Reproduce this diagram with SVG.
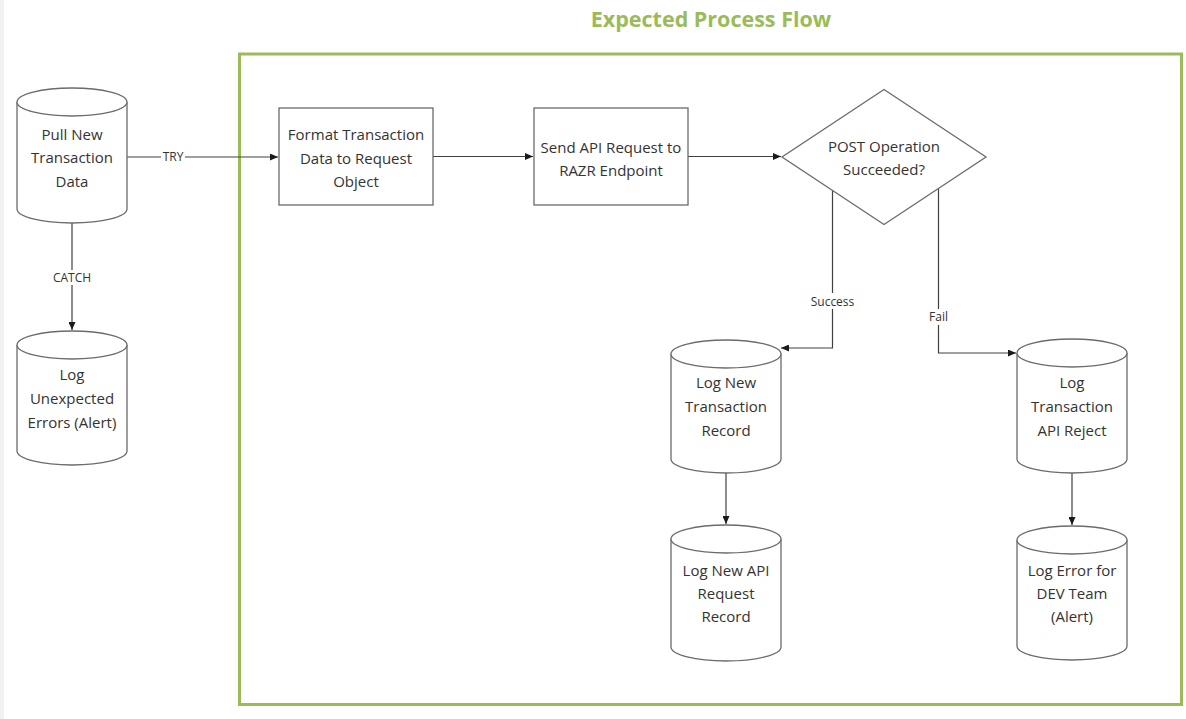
<svg xmlns="http://www.w3.org/2000/svg" width="1186" height="719" viewBox="0 0 1186 719">
  <style>
    .node { fill: #ffffff; stroke: #6b6b6b; stroke-width: 1.3; }
    .txt { font-family: "Open Sans", "Noto Sans", sans-serif; font-size: 15px; fill: #333333; text-anchor: middle; }
    .lbl { font-family: "Open Sans", "Noto Sans", sans-serif; font-size: 12px; fill: #333333; text-anchor: middle; }
    .edge { fill: none; stroke: #404040; stroke-width: 1.2; marker-end: url(#arrow); }
    .lblbg { fill: #ffffff; }
  </style>
  <defs>
    <marker id="arrow" markerUnits="userSpaceOnUse" markerWidth="9" markerHeight="7" refX="8" refY="3.5" orient="auto">
      <path d="M0,0 L8,3.5 L0,7 z" fill="#1a1a1a"/>
    </marker>
  </defs>

  <rect x="0" y="0" width="1186" height="719" fill="#ffffff"/>
  <rect x="0" y="0" width="4" height="719" fill="#f1f1f1"/>

  <!-- process boundary -->
  <g id="process-frame">
    <rect x="239.5" y="54" width="942" height="650.5" fill="none" stroke="#9bbb59" stroke-width="3"/>
    <text x="711" y="26.5" font-family="'Open Sans', 'Noto Sans', sans-serif" font-size="21.5" font-weight="bold" fill="#9bbb59" text-anchor="middle">Expected Process Flow</text>
  </g>

  <!-- connectors -->
  <g id="connectors">
    <path class="edge" d="M127 157 H278"/>
    <path class="edge" d="M72 223 V330"/>
    <path class="edge" d="M433 156.5 H533"/>
    <path class="edge" d="M688 156.5 H781"/>
    <path class="edge" d="M832.5 191 V348 H781"/>
    <path class="edge" d="M938.5 189 V353 H1016"/>
    <path class="edge" d="M726 473 V524"/>
    <path class="edge" d="M1072 473 V525"/>

    <rect class="lblbg" x="161" y="150" width="24" height="14"/>
    <text class="lbl" x="173" y="161.3">TRY</text>
    <rect class="lblbg" x="50" y="270" width="44" height="15"/>
    <text class="lbl" x="72" y="281.5">CATCH</text>
    <rect class="lblbg" x="807" y="293" width="51" height="16"/>
    <text class="lbl" x="832.5" y="305.5">Success</text>
    <rect class="lblbg" x="927" y="309" width="23" height="16"/>
    <text class="lbl" x="938.5" y="321">Fail</text>
  </g>

  <g id="pull-transaction-data">
    <path class="node" d="M17 102 V209 A55 14 0 0 0 127 209 V102"/>
    <ellipse class="node" cx="72" cy="102" rx="55" ry="14"/>
    <text class="txt" x="72" y="139.5">Pull New</text>
    <text class="txt" x="72" y="163">Transaction</text>
    <text class="txt" x="72" y="186.5">Data</text>
  </g>

  <g id="log-unexpected-errors">
    <path class="node" d="M17 345 V451 A55 14 0 0 0 127 451 V345"/>
    <ellipse class="node" cx="72" cy="345" rx="55" ry="14"/>
    <text class="txt" x="72" y="379.5">Log</text>
    <text class="txt" x="72" y="403.5">Unexpected</text>
    <text class="txt" x="72" y="428">Errors (Alert)</text>
  </g>

  <g id="format-request">
    <rect class="node" x="279" y="108" width="154" height="97"/>
    <text class="txt" x="356" y="139.5">Format Transaction</text>
    <text class="txt" x="356" y="163.5">Data to Request</text>
    <text class="txt" x="356" y="187">Object</text>
  </g>

  <g id="send-api-request">
    <rect class="node" x="534" y="108" width="154" height="97"/>
    <text class="txt" x="611" y="152.5">Send API Request to</text>
    <text class="txt" x="611" y="175.5">RAZR Endpoint</text>
  </g>

  <g id="post-succeeded">
    <path class="node" d="M884 89.5 L986 157 L884 224.5 L782 157 Z"/>
    <text class="txt" x="884" y="152">POST Operation</text>
    <text class="txt" x="884" y="175">Succeeded?</text>
  </g>

  <g id="log-transaction-record">
    <path class="node" d="M671 354 V459 A55 14 0 0 0 781 459 V354"/>
    <ellipse class="node" cx="726" cy="354" rx="55" ry="14"/>
    <text class="txt" x="726" y="387.5">Log New</text>
    <text class="txt" x="726" y="411.5">Transaction</text>
    <text class="txt" x="726" y="435.5">Record</text>
  </g>

  <g id="log-api-request-record">
    <path class="node" d="M671 539 V647 A55 14 0 0 0 781 647 V539"/>
    <ellipse class="node" cx="726" cy="539" rx="55" ry="14"/>
    <text class="txt" x="726" y="576">Log New API</text>
    <text class="txt" x="726" y="599">Request</text>
    <text class="txt" x="726" y="622">Record</text>
  </g>

  <g id="log-api-reject">
    <path class="node" d="M1017 353 V459 A55 14 0 0 0 1127 459 V353"/>
    <ellipse class="node" cx="1072" cy="353" rx="55" ry="14"/>
    <text class="txt" x="1072" y="388">Log</text>
    <text class="txt" x="1072" y="412">Transaction</text>
    <text class="txt" x="1072" y="436">API Reject</text>
  </g>

  <g id="log-dev-error">
    <path class="node" d="M1017 540 V646 A55 14 0 0 0 1127 646 V540"/>
    <ellipse class="node" cx="1072" cy="540" rx="55" ry="14"/>
    <text class="txt" x="1072" y="576">Log Error for</text>
    <text class="txt" x="1072" y="599">DEV Team</text>
    <text class="txt" x="1072" y="622">(Alert)</text>
  </g>
</svg>
